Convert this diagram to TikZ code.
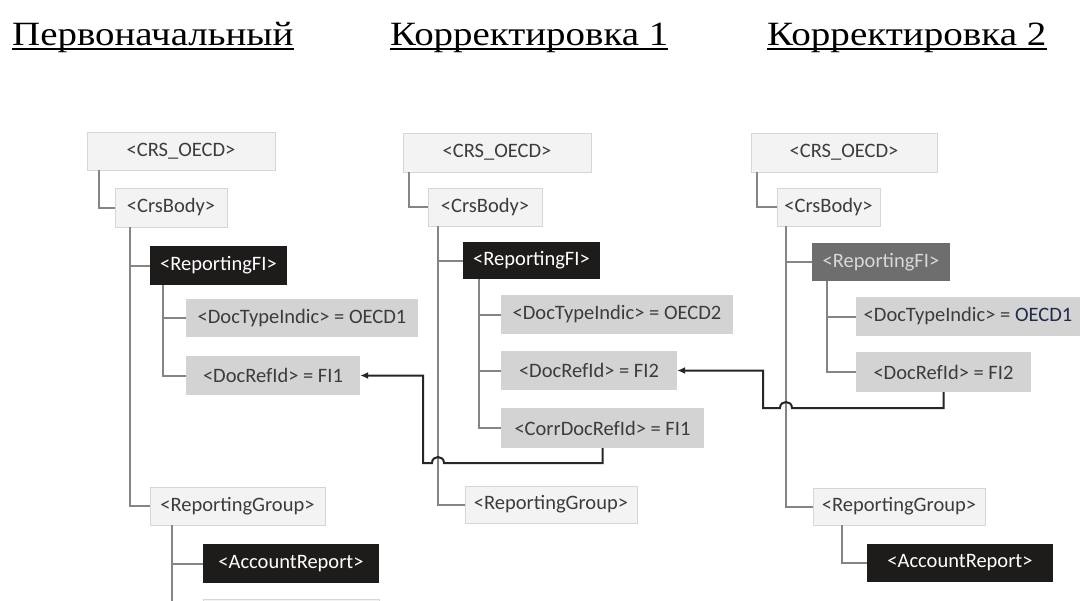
\documentclass[tikz,border=0pt]{standalone}
\usepackage{fontspec}
\usepackage{graphicx}
\setmainfont{Carlito}
\newfontfamily\titlefont{Liberation Serif}
\usetikzlibrary{calc,arrows.meta}
\definecolor{lightfill}{HTML}{F3F3F3}
\definecolor{lightedge}{HTML}{D6D6D6}
\definecolor{grayfill}{HTML}{D3D3D3}
\definecolor{blackfill}{HTML}{1E1B1B}
\definecolor{darkfill}{HTML}{6E6E6E}
\definecolor{darktext}{HTML}{D8D8D8}
\definecolor{boxtext}{HTML}{3C3C3C}
\definecolor{treeline}{HTML}{858585}
\definecolor{refline}{HTML}{262626}
\definecolor{navy}{HTML}{1F2B4A}
\begin{document}
\begin{tikzpicture}[x=1pt,y=-1pt,
  box/.style={inner sep=0pt, anchor=center, font=\fontsize{20.5}{24}\selectfont},
  wh/.style 2 args={minimum width=#1pt, minimum height=#2pt},
  lightbox/.style={box, fill=lightfill, draw=lightedge, line width=0.8pt, text=boxtext},
  graybox/.style={box, fill=grayfill, text=boxtext},
  blackbox/.style={box, fill=blackfill, text=white},
  darkbox/.style={box, fill=darkfill, text=darktext},
  tree/.style={draw=treeline, line width=2pt},
  ref/.style={draw=refline, line width=2pt, -{Latex[length=8pt,width=7pt]}},
  title/.style={inner sep=0pt, anchor=base west, font=\titlefont\fontsize{34}{38}\selectfont},
  uline/.style={line width=1.8pt}]
\fill[white] (0,0) rectangle (1081,600);
\path[use as bounding box] (0,0) rectangle (1081,600);

% titles
\node[title] (t1) at (12,45) {\scalebox{1.145}[1]{Первоначальный}};
\node[title] (t2) at (390,45) {\scalebox{1.145}[1]{Корректировка 1}};
\node[title] (t3) at (767,45) {\scalebox{1.15}[1]{Корректировка 2}};
\draw[uline] ($(t1.base west)+(0,4)$) -- ($(t1.base east)+(0,4)$);
\draw[uline] ($(t2.base west)+(0,4)$) -- ($(t2.base east)+(0,4)$);
\draw[uline] ($(t3.base west)+(0,4)$) -- ($(t3.base east)+(0,4)$);

% column 1
\node[lightbox, wh={188}{38}] (c1root) at (181,151) {<CRS\_OECD>};
\node[lightbox, wh={112}{39}] (c1body) at (171,207.5) {<CrsBody>};
\node[blackbox, wh={137}{39}] (c1fi) at (218.5,265.5) {<ReportingFI>};
\node[graybox, wh={232}{38}] (c1dti) at (302,318) {<DocTypeIndic> = OECD1};
\node[graybox, wh={174}{39}] (c1dri) at (273,375.5) {<DocRefId> = FI1};
\node[lightbox, wh={175}{38}] (c1rg) at (237.5,506) {<ReportingGroup>};
\node[blackbox, wh={176}{39}] (c1ar) at (291,563.5) {<AccountReport>};
\node[lightbox, wh={176}{38}] (c1next) at (291,618) {};

\draw[tree] ($(c1root.south west)+(12,0)$) |- (c1body.west);
\draw[tree] ($(c1body.south west)+(15,0)$) |- (c1fi.west);
\draw[tree] ($(c1body.south west)+(15,0)$) |- (c1rg.west);
\draw[tree] ($(c1fi.south west)+(13,0)$) |- (c1dti.west);
\draw[tree] ($(c1fi.south west)+(13,0)$) |- (c1dri.west);
\draw[tree] ($(c1rg.south west)+(22,0)$) |- (c1ar.west);
\draw[tree] ($(c1rg.south west)+(22,0)$) |- (c1next.west);

% column 2
\node[lightbox, wh={188}{39}] (c2root) at (497,152.5) {<CRS\_OECD>};
\node[lightbox, wh={114}{38}] (c2body) at (485,207) {<CrsBody>};
\node[blackbox, wh={137}{37}] (c2fi) at (531.5,260.5) {<ReportingFI>};
\node[graybox, wh={232}{39}] (c2dti) at (617,314.5) {<DocTypeIndic> = OECD2};
\node[graybox, wh={176}{39}] (c2dri) at (589,370.5) {<DocRefId> = FI2};
\node[graybox, wh={203}{40}] (c2cdri) at (602.5,428) {<CorrDocRefId> = FI1};
\node[lightbox, wh={172}{37}] (c2rg) at (551,504.5) {<ReportingGroup>};

\draw[tree] ($(c2root.south west)+(6,0)$) |- (c2body.west);
\draw[tree] ($(c2body.south west)+(10,0)$) |- (c2fi.west);
\draw[tree] ($(c2body.south west)+(10,0)$) |- (c2rg.west);
\draw[tree] ($(c2fi.south west)+(16,0)$) |- (c2dti.west);
\draw[tree] ($(c2fi.south west)+(16,0)$) |- (c2dri.west);
\draw[tree] ($(c2fi.south west)+(16,0)$) |- (c2cdri.west);

% column 3
\node[lightbox, wh={186}{39}] (c3root) at (844,152.5) {<CRS\_OECD>};
\node[lightbox, wh={103}{38}] (c3body) at (828.5,207) {<CrsBody>};
\node[darkbox, wh={138}{38}] (c3fi) at (881,262) {<ReportingFI>};
\node[graybox, wh={224}{39}] (c3dti) at (968,316.5) {<DocTypeIndic> = {\color{navy}OECD1}};
\node[graybox, wh={175}{40}] (c3dri) at (943.5,372) {<DocRefId> = FI2};
\node[lightbox, wh={172}{37}] (c3rg) at (899,506.5) {<ReportingGroup>};
\node[blackbox, wh={186}{38}] (c3ar) at (960,563) {<AccountReport>};

\draw[tree] ($(c3root.south west)+(6,0)$) |- (c3body.west);
\draw[tree] ($(c3body.south west)+(9,0)$) |- (c3fi.west);
\draw[tree] ($(c3body.south west)+(9,0)$) |- (c3rg.west);
\draw[tree] ($(c3fi.south west)+(15,0)$) |- (c3dti.west);
\draw[tree] ($(c3fi.south west)+(15,0)$) |- (c3dri.west);
\draw[tree] ($(c3rg.south west)+(29,0)$) |- (c3ar.west);

% reference arrows
\coordinate (a1turn) at (423,463);
\coordinate (a2turn) at (763,408);
\draw[ref] (c2cdri.south) -- (c2cdri.south |- a1turn) -- ($(a1turn)+(21,0)$)
  .. controls +(0,-8) and +(0,-8) .. ($(a1turn)+(9,0)$) -- (a1turn) |- (c1dri.east);
\draw[ref] (c3dri.south) -- (c3dri.south |- a2turn) -- ($(a2turn)+(29,0)$)
  .. controls +(0,-8) and +(0,-8) .. ($(a2turn)+(17,0)$) -- (a2turn) |- (c2dri.east);
\end{tikzpicture}
\end{document}
